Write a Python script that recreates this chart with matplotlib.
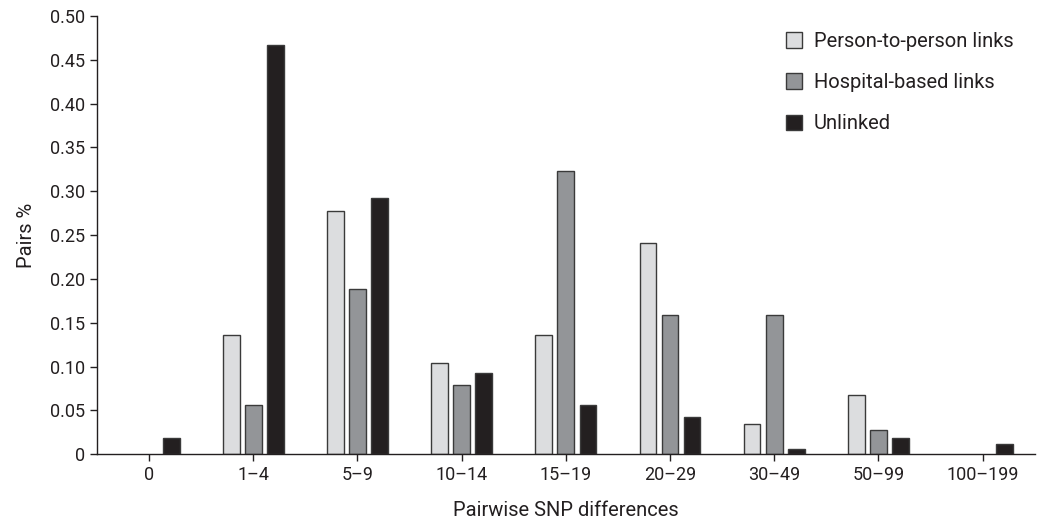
import numpy as np
import matplotlib
matplotlib.use("Agg")
import matplotlib.pyplot as plt
from matplotlib.patches import Patch

categories = ["0", "1\u20134", "5\u20139", "10\u201314", "15\u201319", "20\u201329", "30\u201349", "50\u201399", "100\u2013199"]
person = [0, 0.136, 0.277, 0.104, 0.136, 0.241, 0.034, 0.068, 0]
hospital = [0, 0.056, 0.188, 0.079, 0.323, 0.159, 0.159, 0.028, 0]
unlinked = [0.018, 0.467, 0.292, 0.093, 0.056, 0.042, 0.006, 0.018, 0.011]
yticks = [0, 0.05, 0.10, 0.15, 0.20, 0.25, 0.30, 0.35, 0.40, 0.45, 0.50]
ytick_labels = ["0", "0.05", "0.10", "0.15", "0.20", "0.25", "0.30", "0.35", "0.40", "0.45", "0.50"]

plt.rcParams['font.family'] = ['Roboto', 'DejaVu Sans']
txt = "#231f20"
edge = "#3a3a3a"

fig = plt.figure(figsize=(10.43, 5.19), dpi=100)
ax = fig.add_axes([0.093, 0.125, 0.899, 0.844])

x = np.arange(len(categories))
w = 0.16
step = 0.212
series = [(person, "#dcdddf", "Person-to-person links"),
          (hospital, "#939598", "Hospital-based links"),
          (unlinked, "#231f20", "Unlinked")]
handles = []
for i, (vals, col, lab) in enumerate(series):
    bars = ax.bar(x + (i - 1) * step, vals, width=w, color=col, edgecolor=edge, linewidth=1)
    # no outline for empty bars
    for b, v in zip(bars, vals):
        if v == 0:
            b.set_visible(False)
    handles.append(Patch(facecolor=col, edgecolor=edge, linewidth=1, label=lab))

ax.set_xlim(-0.5, 8.5)
ax.set_ylim(0, 0.5)
ax.set_xticks(x)
ax.set_xticklabels(categories)
ax.set_yticks(yticks)
ax.set_yticklabels(ytick_labels)
ax.spines["top"].set_visible(False)
ax.spines["right"].set_visible(False)
for s in ["left", "bottom"]:
    ax.spines[s].set_color(txt)
    ax.spines[s].set_linewidth(1)
ax.tick_params(colors=txt, labelsize=13, length=5, width=1)
ax.set_xlabel("Pairwise SNP differences", fontsize=14.5, color=txt, labelpad=12)
ax.set_ylabel("Pairs %", fontsize=14.5, color=txt, labelpad=10)

leg = ax.legend(handles=handles, loc="upper right", bbox_to_anchor=(0.997, 1.005), frameon=False, fontsize=14.5,
                handlelength=0.8, handleheight=0.8, labelspacing=1.1, handletextpad=0.6)
for t in leg.get_texts():
    t.set_color(txt)

fig.savefig("out.png", dpi=100)
